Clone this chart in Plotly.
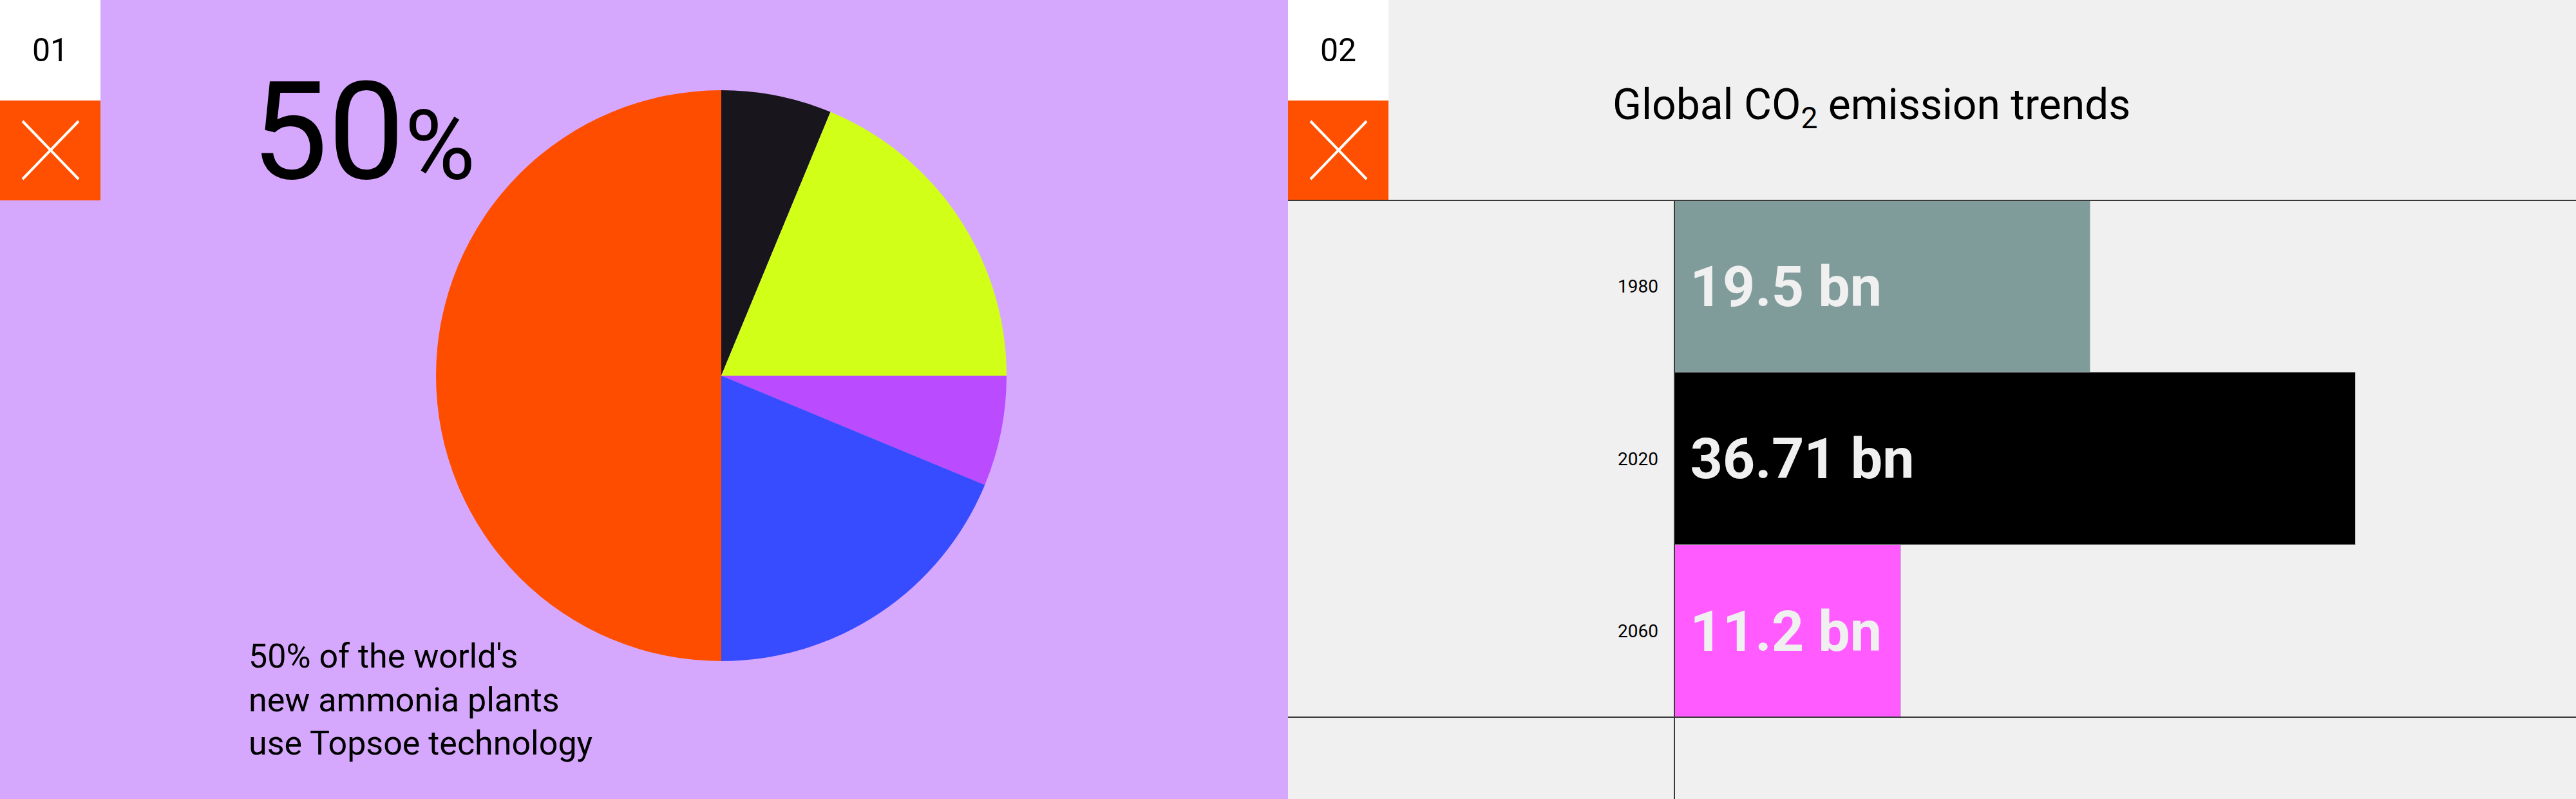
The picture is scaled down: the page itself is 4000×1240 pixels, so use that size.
import plotly.graph_objects as go

W, H = 4000, 1240

# ---------------- data ----------------
# Panel 01: share of new ammonia plants (pie, 16ths)
pie_labels = ["Other A", "Other B", "Other C", "Other D", "Topsoe technology"]
pie_values = [6.25, 18.75, 6.25, 18.75, 50]
pie_colors = ["#18161C", "#D1FF17", "#BA4BFF", "#384CFF", "#FF4D00"]

headline_value = "50"
headline_text = ["50% of the world's", "new ammonia plants", "use Topsoe technology"]

# Panel 02: global CO2 emission trends
years = ["1980", "2020", "2060"]
bar_values = [22.4, 36.71, 12.2]          # bar lengths as drawn
bar_labels = ["19.5 bn", "36.71 bn", "11.2 bn"]
bar_colors = ["#7F9C9B", "#000000", "#FF5BFF"]

panel_numbers = ["01", "02"]
title2 = "Global CO<sub>2</sub> emission trends"


def px(x):
    return x / W


def py(y):
    return 1 - y / H


fig = go.Figure()

fig.add_trace(go.Pie(
    values=pie_values, labels=pie_labels,
    marker=dict(colors=pie_colors, line=dict(width=0)),
    sort=False, direction="clockwise", rotation=0,
    textinfo="none", hoverinfo="skip", showlegend=False,
    domain=dict(x=[px(1120 - 443), px(1120 + 443)], y=[py(583 + 443), py(583 - 443)]),
))

fig.add_trace(go.Bar(
    x=bar_values, y=years, orientation="h",
    marker=dict(color=bar_colors, line=dict(color="#c8c8c8", width=1)),
    width=1, hoverinfo="skip", showlegend=False,
    text=["\u00a0" + t for t in bar_labels], textposition="inside",
    insidetextanchor="start", constraintext="none", cliponaxis=False,
    insidetextfont=dict(family="Roboto", size=88, color="#F0F0F0", weight=700),
))

shapes = []
# left lavender panel
shapes.append(dict(type="rect", xref="paper", yref="paper", x0=0, x1=px(2000), y0=0, y1=1,
                   fillcolor="#D6A8FD", line=dict(width=0), layer="below"))
for ox in (0, 2000):
    shapes.append(dict(type="rect", xref="paper", yref="paper", x0=px(ox), x1=px(ox + 156),
                       y0=py(156), y1=1, fillcolor="#FFFFFF", line=dict(width=0), layer="below"))
    shapes.append(dict(type="rect", xref="paper", yref="paper", x0=px(ox), x1=px(ox + 156),
                       y0=py(311), y1=py(156), fillcolor="#FF4F00", line=dict(width=0), layer="below"))
    shapes.append(dict(type="line", xref="paper", yref="paper", x0=px(ox + 35), x1=px(ox + 122),
                       y0=py(188), y1=py(278), line=dict(color="#FFFFFF", width=4)))
    shapes.append(dict(type="line", xref="paper", yref="paper", x0=px(ox + 35), x1=px(ox + 122),
                       y0=py(278), y1=py(188), line=dict(color="#FFFFFF", width=4)))
# rule lines in panel 02
for yy in (311, 1113):
    shapes.append(dict(type="line", xref="paper", yref="paper", x0=px(2000), x1=1,
                       y0=py(yy), y1=py(yy), line=dict(color="#3a3a3a", width=2)))
shapes.append(dict(type="line", xref="paper", yref="paper", x0=px(2600), x1=px(2600),
                   y0=0, y1=py(311), line=dict(color="#3a3a3a", width=2)))

annotations = []
for num, cx in zip(panel_numbers, (78, 2078)):
    annotations.append(dict(text=num, xref="paper", yref="paper", x=px(cx), y=py(78),
                            xanchor="center", yanchor="middle", showarrow=False,
                            font=dict(family="Liberation Sans Narrow, Roboto", size=50,
                                      color="#000000")))

annotations.append(dict(
    text=headline_value + "<span style='font-size:150px'>%</span>",
    xref="paper", yref="paper", x=px(388), y=py(204), xanchor="left", yanchor="middle",
    showarrow=False, font=dict(family="Roboto", size=212, color="#000000")))

annotations.append(dict(
    text="<br>".join(headline_text), xref="paper", yref="paper", x=px(384), y=py(1086),
    xanchor="left", yanchor="middle", align="left", showarrow=False,
    font=dict(family="Roboto", size=52, color="#000000")))

annotations.append(dict(
    text=title2, xref="paper", yref="paper", x=px(2502), y=py(167),
    xanchor="left", yanchor="middle", showarrow=False,
    font=dict(family="Roboto", size=66, color="#000000")))

fig.update_layout(
    width=W, height=H, margin=dict(l=0, r=0, t=0, b=0),
    paper_bgcolor="#F0F0F0", plot_bgcolor="rgba(0,0,0,0)",
    bargap=0, shapes=shapes, annotations=annotations,
    xaxis=dict(domain=[px(2600), 1], range=[0, 1400 / 28.82], visible=False, fixedrange=True),
    yaxis=dict(domain=[py(1113), py(311)], type="category", categoryorder="array",
               categoryarray=years, range=[2.5, -0.5], showgrid=False, zeroline=False,
               showline=False, ticks="", ticklabelstandoff=24,
               tickfont=dict(family="Roboto", size=28, color="#000000")),
)

fig.write_html(
    "out.html",
    config={"displayModeBar": False},
    post_script="document.body.style.margin='0';document.body.style.padding='0';"
                "document.body.style.overflow='hidden';",
)
